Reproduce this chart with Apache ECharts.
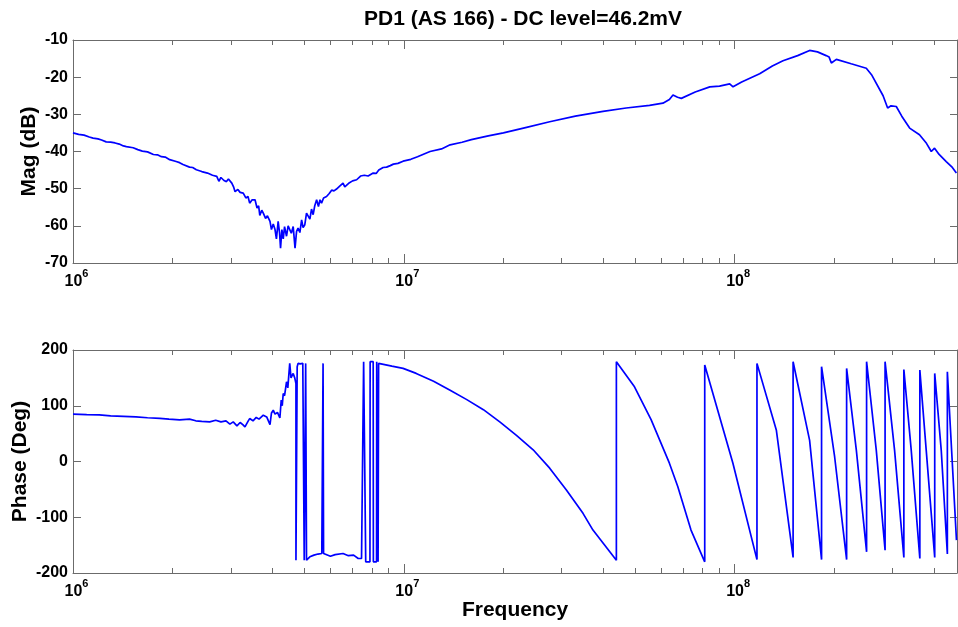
<!DOCTYPE html>
<html>
<head>
<meta charset="utf-8">
<title>PD1 (AS 166)</title>
<script src="https://cdn.jsdelivr.net/npm/echarts@6/dist/echarts.min.js"></script>
<style>
  html, body { margin: 0; padding: 0; background: #fff; }
  #main { width: 958px; height: 627px; }
</style>
</head>
<body>
<div id="main"></div>
<script>
// magnitude trace (Hz / dB)
var magFreq = [
  1.00e6, 1.04e6, 1.08e6, 1.12e6, 1.15e6, 1.19e6, 1.22e6, 1.26e6, 1.30e6, 1.34e6,
  1.38e6, 1.42e6, 1.45e6, 1.52e6, 1.57e6, 1.62e6, 1.68e6, 1.75e6, 1.80e6, 1.85e6,
  1.90e6, 1.96e6, 2.05e6, 2.10e6, 2.15e6, 2.25e6, 2.30e6, 2.36e6, 2.45e6, 2.55e6,
  2.64e6, 2.72e6, 2.76e6, 2.80e6, 2.86e6, 2.91e6, 2.95e6, 3.02e6, 3.06e6, 3.09e6,
  3.15e6, 3.20e6, 3.27e6, 3.33e6, 3.38e6, 3.42e6, 3.48e6, 3.55e6, 3.60e6, 3.64e6,
  3.67e6, 3.72e6, 3.76e6, 3.82e6, 3.87e6, 3.94e6, 3.98e6, 4.03e6, 4.08e6, 4.12e6,
  4.17e6, 4.21e6, 4.24e6, 4.28e6, 4.32e6, 4.36e6, 4.42e6, 4.47e6, 4.52e6, 4.57e6,
  4.63e6, 4.69e6, 4.74e6, 4.79e6, 4.85e6, 4.91e6, 4.96e6, 5.02e6, 5.08e6, 5.14e6,
  5.20e6, 5.26e6, 5.32e6, 5.38e6, 5.45e6, 5.52e6, 5.58e6, 5.64e6, 5.72e6, 5.84e6,
  5.95e6, 6.05e6, 6.15e6, 6.26e6, 6.40e6, 6.55e6, 6.63e6, 6.71e6, 6.85e6, 7.00e6,
  7.20e6, 7.40e6, 7.60e6, 7.80e6, 8.08e6, 8.25e6, 8.40e6, 8.66e6, 8.87e6, 9.10e6,
  9.30e6, 9.60e6, 9.95e6, 1.05e7, 1.10e7, 1.20e7, 1.30e7, 1.38e7, 1.50e7, 1.60e7,
  1.80e7, 2.00e7, 2.35e7, 2.76e7, 3.30e7, 4.00e7, 4.70e7, 5.53e7, 6.07e7, 6.35e7,
  6.51e7, 6.72e7, 6.90e7, 7.60e7, 8.41e7, 9.00e7, 9.66e7, 9.89e7, 1.05e8, 1.19e8,
  1.30e8, 1.40e8, 1.55e8, 1.685e8, 1.78e8, 1.89e8, 1.93e8, 1.96e8, 2.03e8, 2.25e8,
  2.50e8, 2.60e8, 2.81e8, 2.90e8, 2.97e8, 3.08e8, 3.20e8, 3.38e8, 3.62e8, 3.80e8,
  3.93e8, 4.02e8, 4.15e8, 4.36e8, 4.55e8, 4.68e8
];
var magDb = [
  -35.0, -35.4, -35.6, -36.1, -36.4, -36.6, -36.9, -37.4, -37.5, -37.7,
  -38.0, -38.5, -38.7, -39.0, -39.5, -39.9, -40.1, -40.8, -40.9, -41.4,
  -41.5, -42.2, -42.7, -43.0, -43.5, -44.2, -44.3, -44.9, -45.4, -45.8,
  -46.4, -46.7, -48.0, -47.0, -47.8, -48.1, -47.4, -48.5, -49.6, -50.8,
  -50.2, -51.0, -51.2, -52.5, -52.1, -53.9, -53.0, -53.0, -55.2, -54.6,
  -57.2, -55.8, -56.6, -58.0, -57.3, -58.8, -61.0, -59.5, -61.0, -63.5,
  -58.8, -61.8, -66.0, -61.0, -63.5, -60.2, -62.8, -60.0, -59.7, -62.0,
  -60.2, -66.0, -61.5, -60.6, -61.8, -58.4, -60.5, -59.7, -56.6, -56.1,
  -58.2, -55.5, -57.0, -54.6, -53.0, -54.8, -53.0, -53.9, -52.5, -52.1,
  -51.3, -50.4, -50.6, -50.1, -49.3, -48.5, -49.5, -49.4, -48.4, -47.9,
  -47.6, -46.6, -46.4, -46.6, -45.8, -45.9, -45.0, -44.3, -44.2, -43.8,
  -43.4, -43.2, -42.6, -42.1, -41.4, -40.0, -39.3, -38.2, -37.5, -36.8,
  -35.8, -35.0, -33.5, -32.0, -30.5, -29.2, -28.3, -27.6, -27.0, -26.0,
  -24.8, -25.4, -25.7, -24.0, -22.6, -22.4, -21.8, -22.6, -21.3, -19.1,
  -17.0, -15.6, -14.2, -12.8, -13.2, -14.2, -14.6, -16.2, -15.2, -16.4,
  -17.6, -19.5, -25.0, -28.3, -27.7, -27.9, -30.5, -33.7, -35.5, -37.8,
  -40.0, -39.1, -40.8, -42.7, -44.3, -45.8
];

// phase trace (Hz / degrees), wraps at +-180
var phaseFreq = [
  1.00e6, 1.10e6, 1.20e6, 1.30e6, 1.42e6, 1.55e6, 1.68e6, 1.83e6, 1.95e6, 2.10e6,
  2.25e6, 2.35e6, 2.45e6, 2.59e6, 2.70e6, 2.80e6, 2.90e6, 2.98e6, 3.05e6, 3.13e6,
  3.20e6, 3.26e6, 3.31e6, 3.38e6, 3.42e6, 3.50e6, 3.58e6, 3.65e6, 3.76e6, 3.85e6,
  3.94e6, 3.98e6, 4.03e6, 4.08e6, 4.15e6, 4.22e6, 4.26e6, 4.29e6, 4.32e6, 4.36e6,
  4.42e6, 4.46e6, 4.52e6, 4.56e6, 4.63e6, 4.68e6, 4.72e6, 4.72e6, 4.76e6, 4.79e6,
  4.86e6, 4.95e6, 5.00e6, 5.05e6, 5.08e6, 5.08e6, 5.20e6, 5.35e6, 5.50e6, 5.65e6,
  5.70e6, 5.72e6, 6.00e6, 6.20e6, 6.55e6, 6.80e6, 7.05e6, 7.28e6, 7.45e6, 7.55e6,
  7.56e6, 7.66e6, 7.67e6, 7.90e6, 7.91e6, 8.08e6, 8.09e6, 8.27e6, 8.28e6, 8.35e6,
  8.36e6, 8.38e6, 8.39e6, 8.46e6, 9.20e6, 9.95e6, 1.09e7, 1.23e7, 1.38e7, 1.55e7,
  1.74e7, 1.95e7, 2.19e7, 2.46e7, 2.76e7, 3.10e7, 3.48e7, 3.73e7, 4.39e7, 4.39e7,
  4.98e7, 5.59e7, 6.35e7, 6.73e7, 7.38e7, 8.12e7, 8.12e7, 9.88e7, 1.168e8, 1.168e8,
  1.337e8, 1.502e8, 1.502e8, 1.685e8, 1.831e8, 1.831e8, 2.005e8, 2.180e8, 2.180e8, 2.332e8,
  2.505e8, 2.505e8, 2.680e8, 2.849e8, 2.849e8, 3.044e8, 3.247e8, 3.247e8, 3.418e8, 3.629e8,
  3.629e8, 3.794e8, 4.025e8, 4.025e8, 4.212e8, 4.395e8, 4.395e8, 4.683e8
];
var phaseDeg = [
  85, 84, 83.5, 82, 81, 80, 78.5, 77.5, 76, 74.5,
  76, 73, 72, 71, 74, 71, 73, 67, 71, 64,
  70, 66, 62, 72, 77, 73, 79, 76, 83, 80,
  66, 87, 92, 85, 88, 78, 110, 100, 122, 118,
  143, 132, 176, 150, 158, 150, 140, -177, 170, 176,
  175, 176, -177, 176, 176, -177, -171, -168, -166, -165,
  176, -165, -170, -167, -165, -169, -168, -174, -174, -176,
  179, 179, -180, -180, 179, 179, -180, -180, 179, 179,
  -180, -180, 176, 176, 171, 167, 158, 144, 128, 111,
  93, 71, 47, 21, -12, -51, -93, -123, -177, 179,
  134, 75, -3, -45, -123, -180, 173, -3, -176, 176,
  56, -172, 179, 38, -176, 170, 9, -176, 167, 21,
  -162, 179, 20, -159, 179, 20, -172, 165, 20, -174,
  164, 20, -172, 158, 20, -166, 161, -141
];

// x axis range and tick marks
var freqMin = 1e6;
var freqMax = 4.7e8;
var decadeTicks = [1e6, 1e7, 1e8];
var minorTicks = [
  2e6, 3e6, 4e6, 5e6, 6e6, 7e6, 8e6, 9e6,
  2e7, 3e7, 4e7, 5e7, 6e7, 7e7, 8e7, 9e7,
  2e8, 3e8, 4e8
];
var magRange = [-70, -10, 10];
var phaseRange = [-200, 200, 100];

var fontFamily = '"Liberation Sans", Arial, sans-serif';
var axisColor = '#6b6b6b';

function xAxesFor (gridIndex, name) {
  var base = {
    gridIndex: gridIndex,
    type: 'log',
    logBase: 10,
    min: freqMin,
    max: freqMax,
    splitLine: { show: false },
    axisLine: { onZero: false, show: false, lineStyle: { color: axisColor } }
  }
  var bottom = echarts.util.merge({
    position: 'bottom',
    name: name,
    nameLocation: 'middle',
    nameGap: 27,
    nameMoveOverlap: false,
    nameTextStyle: { fontSize: 21, fontWeight: 'bold', color: '#000', fontFamily: fontFamily },
    axisLine: { show: true },
    axisTick: { inside: true, length: 9, customValues: decadeTicks, lineStyle: { color: axisColor } },
    axisLabel: {
      margin: 5,
      customValues: decadeTicks,
      formatter: function (v) {
        return '{p| }{b|10}{s|' + Math.round(Math.log10(v)) + '}'
      },
      rich: {
        p: { width: 7 },
        b: { fontSize: 16, fontWeight: 'bold', color: '#000', fontFamily: fontFamily, lineHeight: 22, verticalAlign: 'bottom' },
        s: { fontSize: 11, fontWeight: 'bold', color: '#000', fontFamily: fontFamily, verticalAlign: 'top' }
      }
    }
  }, base)
  var bottomMinor = echarts.util.merge({
    position: 'bottom',
    axisTick: { inside: true, length: 5, customValues: minorTicks, lineStyle: { color: axisColor } },
    axisLabel: { show: false }
  }, base)
  var top = echarts.util.merge({
    position: 'top',
    axisLine: { show: true },
    axisTick: { inside: true, length: 9, customValues: decadeTicks, lineStyle: { color: axisColor } },
    axisLabel: { show: false }
  }, base)
  var topMinor = echarts.util.merge({
    position: 'top',
    axisTick: { inside: true, length: 5, customValues: minorTicks, lineStyle: { color: axisColor } },
    axisLabel: { show: false }
  }, base)
  return [bottom, bottomMinor, top, topMinor]
}

function yAxesFor (gridIndex, range, name, nameGap) {
  var left = {
    gridIndex: gridIndex,
    type: 'value',
    position: 'left',
    min: range[0],
    max: range[1],
    interval: range[2],
    name: name,
    nameLocation: 'middle',
    nameGap: nameGap,
    nameMoveOverlap: false,
    nameTextStyle: { fontSize: 21, fontWeight: 'bold', color: '#000', fontFamily: fontFamily },
    splitLine: { show: false },
    axisLine: { show: true, onZero: false, lineStyle: { color: axisColor } },
    axisTick: { inside: true, length: 8, lineStyle: { color: axisColor } },
    axisLabel: { margin: 5, fontSize: 16, fontWeight: 'bold', color: '#000', fontFamily: fontFamily }
  }
  var right = {
    gridIndex: gridIndex,
    type: 'value',
    position: 'right',
    min: range[0],
    max: range[1],
    interval: range[2],
    splitLine: { show: false },
    axisLine: { show: true, onZero: false, lineStyle: { color: axisColor } },
    axisTick: { inside: true, length: 7, lineStyle: { color: axisColor } },
    axisLabel: { show: false }
  }
  return [left, right]
}

function pairs (xs, ys) {
  var out = []
  for (var i = 0; i < xs.length; i++) {
    out.push([xs[i], ys[i]])
  }
  return out
}

var chart = echarts.init(document.getElementById('main'), null, { renderer: 'canvas' })
var option = {
  animation: false,
  backgroundColor: '#fff',
  title: {
    text: 'PD1 (AS 166) - DC level=46.2mV',
    left: 518,
    top: 4,
    textAlign: 'center',
    textStyle: { fontSize: 21, fontWeight: 'bold', color: '#000', fontFamily: fontFamily }
  },
  grid: [
    { left: 73, top: 40, width: 884, height: 223, containLabel: false, outerBoundsMode: 'none' },
    { left: 73, top: 350, width: 884, height: 223, containLabel: false, outerBoundsMode: 'none' }
  ],
  xAxis: xAxesFor(0, '').concat(xAxesFor(1, 'Frequency')),
  yAxis: yAxesFor(0, magRange, 'Mag (dB)', 33).concat(yAxesFor(1, phaseRange, 'Phase (Deg)', 42)),
  series: [
    {
      name: 'Mag',
      type: 'line',
      xAxisIndex: 0,
      yAxisIndex: 0,
      showSymbol: false,
      data: pairs(magFreq, magDb),
      lineStyle: { color: '#0000ff', width: 1.7 }
    },
    {
      name: 'Phase',
      type: 'line',
      xAxisIndex: 4,
      yAxisIndex: 2,
      showSymbol: false,
      data: pairs(phaseFreq, phaseDeg),
      lineStyle: { color: '#0000ff', width: 1.7 }
    }
  ]
}
chart.setOption(option)
</script>
</body>
</html>
